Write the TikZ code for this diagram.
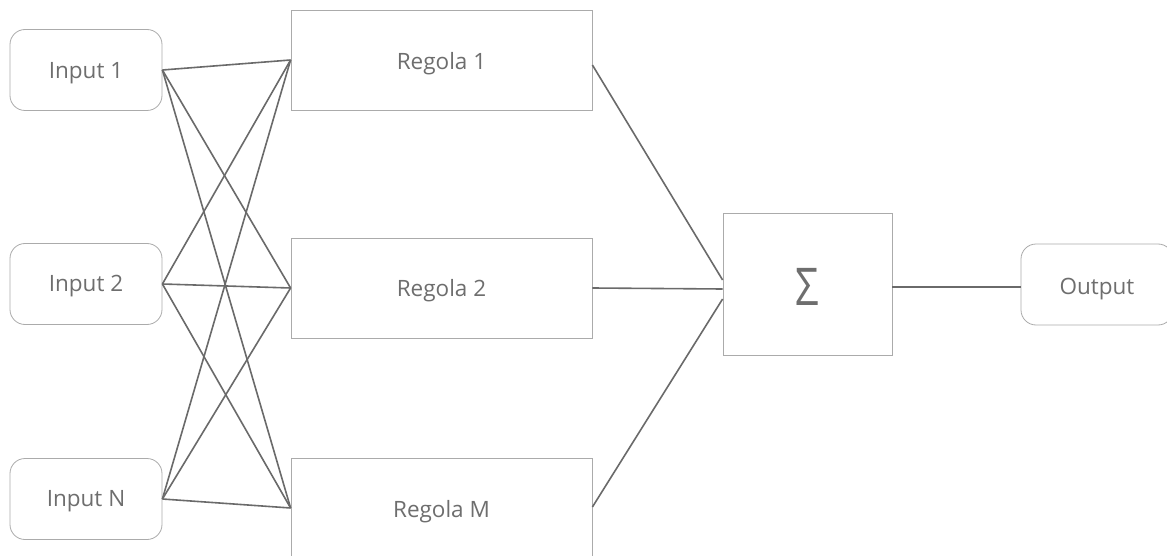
\documentclass[tikz,border=0pt]{standalone}
\usepackage{fontspec}
\setmainfont{Open Sans}
\definecolor{boxc}{HTML}{ABABAB}
\definecolor{linec}{HTML}{6A6A6A}
\definecolor{textc}{HTML}{6E6E6E}
\begin{document}
\begin{tikzpicture}[x=1pt,y=-1pt,
  inbox/.style={draw=boxc,line width=0.8pt,rounded corners=15pt,minimum width=152pt,minimum height=81pt,inner sep=0pt},
  rulebox/.style={draw=boxc,line width=0.8pt,minimum width=301pt,minimum height=100pt,inner sep=0pt},
  sumbox/.style={draw=boxc,line width=0.8pt,minimum width=169pt,minimum height=142pt,inner sep=0pt},
  lbl/.style={text=textc,font=\fontsize{22.5}{26}\selectfont,inner sep=0pt},
  conn/.style={draw=linec,line width=1.6pt}]
\clip (0,0) rectangle (1167,556);
\fill[white] (0,0) rectangle (1167,556);
\node[inbox] (i1) at (86,70) {};
\node[inbox] (i2) at (86,284) {};
\node[inbox] (iN) at (86,499) {};
\node[lbl] (ti1) at (86,73) {Input 1};
\node[lbl] (ti2) at (86,286) {Input 2};
\node[lbl] (tiN) at (86,501) {Input N};
\node[rulebox] (r1) at (441.5,60) {};
\node[rulebox] (r2) at (441.5,288) {};
\node[rulebox] (rM) at (441.5,508) {};
\node[lbl] (t1) at (441.5,64) {Regola 1};
\node[lbl] (t2) at (441.5,291) {Regola 2};
\node[lbl] (tM) at (441.5,512) {Regola M};
\node[sumbox] (sig) at (807.5,284) {};
\node[text=textc,font=\fontsize{52}{56}\selectfont,xscale=0.8,inner sep=0pt] (sgl) at (807,287) {Σ};
\node[inbox] (out) at (1097,284.5) {};
\node[lbl] (to) at (1097,289) {Output};
\foreach \a in {i1,i2,iN}{
  \foreach \b in {r1,r2,rM}{
    \draw[conn] (\a.east) -- (\b.west);
  }
}
\draw[conn] ([yshift=-5pt]r1.east) -- ([yshift=4pt]sig.west);
\draw[conn] (r2.east) -- ([yshift=-5pt]sig.west);
\draw[conn] ([yshift=1pt]rM.east) -- ([yshift=-15pt]sig.west);
\draw[conn] ([yshift=-3pt]sig.east) -- ([yshift=-2.5pt]out.west);
\end{tikzpicture}
\end{document}
